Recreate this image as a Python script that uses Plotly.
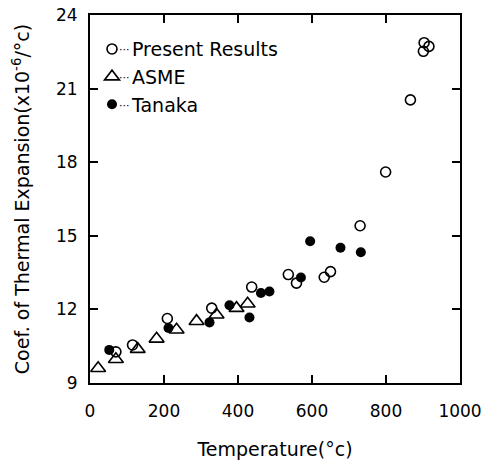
import plotly.graph_objects as go

# Present Results (open circles)
present_T = [70, 115, 209, 329, 437, 536, 558, 633, 650, 730, 799, 866, 903, 916, 901]
present_C = [10.27, 10.55, 11.63, 12.05, 12.91, 13.42, 13.07, 13.31, 13.54, 15.41, 17.6, 20.54, 22.87, 22.72, 22.52]

# ASME (open triangles)
asme_T = [22, 70, 129, 180, 234, 288, 342, 396, 426]
asme_C = [9.6, 9.97, 10.38, 10.8, 11.17, 11.52, 11.78, 12.05, 12.23]

# Tanaka (filled circles)
tanaka_T = [52, 212, 323, 377, 431, 462, 485, 570, 595, 677, 732]
tanaka_C = [10.35, 11.24, 11.47, 12.17, 11.67, 12.67, 12.73, 13.3, 14.78, 14.51, 14.33]

series_names = ["Present Results", "ASME", "Tanaka"]

x_ticks = [0, 200, 400, 600, 800, 1000]
y_ticks = [9, 12, 15, 18, 21, 24]

FONT = "DejaVu Sans"

fig = go.Figure()
fig.add_trace(go.Scatter(
    x=present_T, y=present_C, mode="markers", name=series_names[0],
    legendgroup="a",
    marker=dict(symbol="circle-open", size=10, color="black", line=dict(width=1.6, color="black")),
))
fig.add_trace(go.Scatter(
    x=asme_T, y=asme_C, mode="markers", name=series_names[1],
    legendgroup="b",
    marker=dict(symbol="triangle-up-open", size=13, color="black", line=dict(width=1.6, color="black")),
))
fig.add_trace(go.Scatter(
    x=tanaka_T, y=tanaka_C, mode="markers", name=series_names[2],
    legendgroup="c",
    marker=dict(symbol="circle", size=10, color="black", line=dict(width=0)),
))

axis_common = dict(
    showline=True, linecolor="black", linewidth=1.8, mirror="ticks",
    ticks="inside", ticklen=8, tickwidth=1.5, tickcolor="black",
    showgrid=False, zeroline=False, automargin=False,
    ticklabeloverflow="allow",
    tickfont=dict(family=FONT, size=17, color="black"),
)

fig.update_xaxes(
    range=[0, 1000], tickvals=x_ticks, ticktext=[str(v) for v in x_ticks],
    ticklabelstandoff=12,
    title=dict(text="Temperature(°c)", font=dict(family=FONT, size=19, color="black"), standoff=22),
    **axis_common,
)
fig.update_yaxes(
    range=[9, 24], tickvals=y_ticks, ticktext=[str(v) for v in y_ticks],
    ticklabelstandoff=7,
    title=dict(text="Coef. of Thermal Expansion(x10<sup>-6</sup>/°c)",
               font=dict(family=FONT, size=19, color="black"), standoff=21),
    **axis_common,
)

# dotted leaders between legend symbols and labels
for yy in [0.9076, 0.8315, 0.7554]:
    fig.add_annotation(
        xref="paper", yref="paper", x=0.092, y=yy, text="···",
        showarrow=False, xanchor="center", yanchor="middle",
        font=dict(family=FONT, size=11, color="black"),
    )

fig.update_layout(
    width=493, height=462,
    margin=dict(l=90, r=33, t=15, b=79),
    paper_bgcolor="white", plot_bgcolor="white",
    font=dict(family=FONT, color="black"),
    legend=dict(
        x=0.0054, y=0.959, xanchor="left", yanchor="top",
        bgcolor="rgba(0,0,0,0)", borderwidth=0,
        font=dict(family=FONT, size=19, color="black"),
        itemwidth=30, tracegroupgap=0,
    ),
    showlegend=True,
)

fig.write_html("out.html", config={"displayModeBar": False},
               post_script="document.body.style.margin='0';")
